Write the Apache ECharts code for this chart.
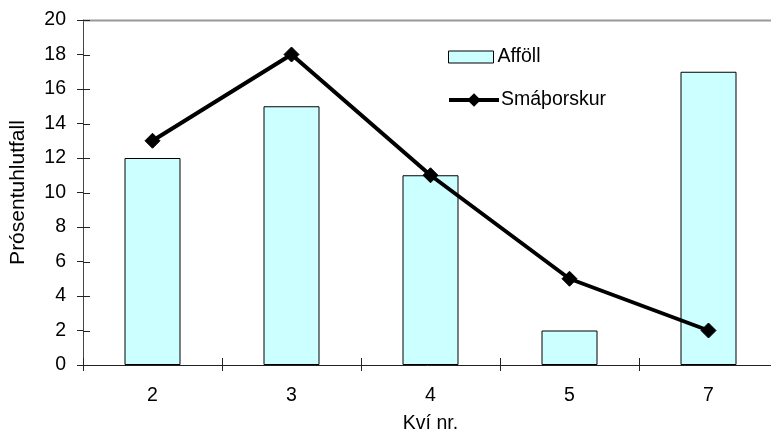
<!DOCTYPE html>
<html>
<head>
<meta charset="utf-8">
<script src="https://cdn.jsdelivr.net/npm/echarts@6/dist/echarts.min.js"></script>
<style>
  html, body { margin: 0; padding: 0; background: #fff; }
  #chart { width: 771px; height: 439px; }
</style>
</head>
<body>
<div id="chart"></div>
<script>
// Pen numbers and the two measured series (percent)
const categories = ['2', '3', '4', '5', '7'];
const affoll = [12, 15, 11, 2, 17];
const smathorskur = [13, 18, 11, 5, 2];
const yTicks = { min: 0, max: 20, interval: 2 };

const chart = echarts.init(document.getElementById('chart'));
const font = 'Liberation Sans, Arial, sans-serif';
const fs = 19.5;

chart.setOption({
  animation: false,
  backgroundColor: '#ffffff',
  textStyle: { fontFamily: font },
  grid: { left: 83, top: 20, width: 695, height: 345, containLabel: false, outerBoundsMode: 'none' },
  legend: [
    {
      orient: 'vertical',
      left: 448,
      top: 47,
      padding: 0,
      itemWidth: 45,
      itemHeight: 12,
      textStyle: { fontFamily: font, fontSize: fs, color: '#000', padding: [0, 0, 0, -1] },
      data: [{ name: 'Afföll', icon: 'rect', itemStyle: { color: '#ccffff', borderColor: '#000', borderWidth: 1 } }]
    },
    {
      orient: 'vertical',
      left: 447,
      top: 90,
      padding: 0,
      itemWidth: 50,
      itemHeight: 17,
      textStyle: { fontFamily: font, fontSize: fs, color: '#000', padding: [0, 0, 0, -3] },
      data: [{ name: 'Smáþorskur', lineStyle: { color: '#000', width: 4 }, itemStyle: { color: '#000' } }]
    }
  ],
  xAxis: {
    type: 'category',
    data: categories,
    name: 'Kví nr.',
    nameLocation: 'middle',
    nameGap: 49,
    nameTextStyle: { fontFamily: font, fontSize: fs, color: '#000' },
    axisLine: { lineStyle: { color: '#222', width: 1 } },
    axisTick: { show: true, length: 6, inside: false, lineStyle: { color: '#222' } },
    axisLabel: { fontFamily: font, fontSize: fs, color: '#000', margin: 21 },
    splitLine: { show: false }
  },
  yAxis: {
    type: 'value',
    min: yTicks.min,
    max: yTicks.max,
    interval: yTicks.interval,
    name: 'Prósentuhlutfall',
    nameLocation: 'middle',
    nameGap: 54,
    nameTextStyle: { fontFamily: font, fontSize: 21, color: '#000' },
    axisLine: { show: true, lineStyle: { color: '#444', width: 1 } },
    axisTick: { show: true, length: 6, lineStyle: { color: '#222' } },
    axisLabel: { fontFamily: font, fontSize: fs, color: '#000', margin: 17 },
    splitLine: { show: false }
  },
  series: [
    {
      name: 'Afföll',
      type: 'bar',
      data: affoll,
      barWidth: 56,
      itemStyle: { color: '#ccffff', borderColor: '#000', borderWidth: 1 },
      z: 2
    },
    {
      name: 'Smáþorskur',
      type: 'line',
      data: smathorskur,
      symbol: 'diamond',
      symbolSize: 15,
      showAllSymbol: true,
      lineStyle: { color: '#000', width: 4 },
      itemStyle: { color: '#000', borderColor: '#000' },
      z: 3
    }
  ]
});

// top frame line plus the inner halves of the crossing ticks, placed through the chart's scales
const extras = [{
  type: 'line',
  shape: { x1: 83, y1: 20.5, x2: 771, y2: 20.5 },
  style: { stroke: '#999', lineWidth: 2 },
  z: 1
}];
for (let v = yTicks.min; v <= yTicks.max; v += yTicks.interval) {
  const p = chart.convertToPixel({ gridIndex: 0 }, [0, v]);
  const y = Math.round(p[1]) + 0.5;
  extras.push({ type: 'line', shape: { x1: 83, y1: y, x2: 90, y2: y }, style: { stroke: '#222', lineWidth: 1 }, z: 5 });
}
const c0 = chart.convertToPixel({ gridIndex: 0 }, [0, 0]);
const c1 = chart.convertToPixel({ gridIndex: 0 }, [1, 0]);
const step = c1[0] - c0[0];
for (let i = 0; i <= categories.length; i++) {
  const x = Math.round(c0[0] - step / 2 + i * step) + 0.5;
  extras.push({ type: 'line', shape: { x1: x, y1: c0[1] - 7, x2: x, y2: c0[1] }, style: { stroke: '#222', lineWidth: 1 }, z: 5 });
}
chart.setOption({ graphic: extras });
</script>
</body>
</html>
